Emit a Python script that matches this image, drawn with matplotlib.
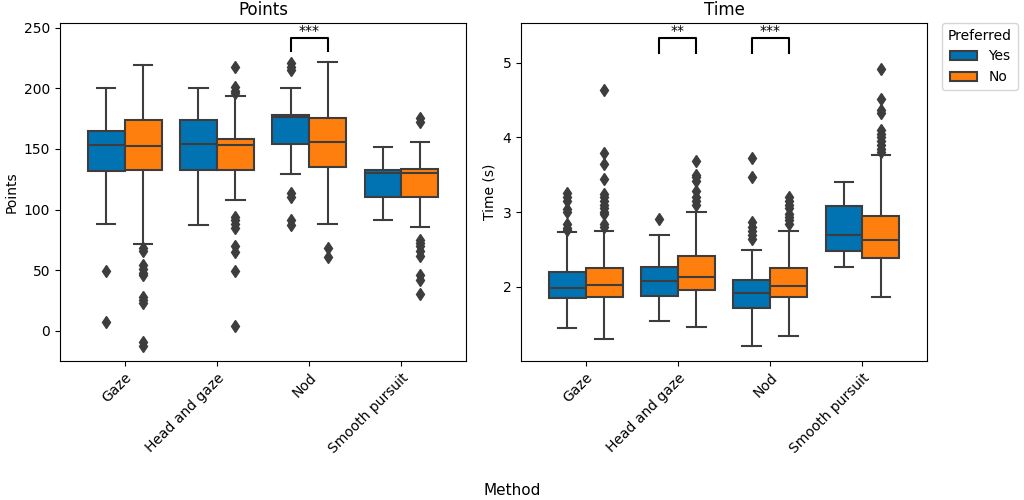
import matplotlib.pyplot as plt

methods = ["Gaze", "Head and gaze", "Nod", "Smooth pursuit"]
groups = ["Yes", "No"]
colors = ["#0173b2", "#ff7f0e"]

# box stats per method: (whisker low, q1, median, q3, whisker high)
points_yes = [(88, 131.5, 153.5, 165, 200), (87, 133, 154, 174, 200),
              (129, 154, 176, 178, 200), (91.5, 110, 130, 132.5, 152)]
points_no = [(71.5, 132.5, 152.5, 174, 219.5), (108, 132.5, 153.5, 158, 193.5),
             (88, 135, 155.5, 175.5, 222), (85.5, 110, 130.5, 133.5, 156)]
points_yes_fliers = [[49.5, 7], [], [221, 218, 215, 114, 110, 91, 87], []]
points_no_fliers = [[68, 65.5, 54, 51, 48, 46, 28, 25, 23, -9, -13],
                    [218, 201, 198, 196, 94, 91, 88, 85, 70, 65, 49, 3.5],
                    [68, 61],
                    [175.5, 172, 75, 72, 70, 66, 62, 46, 42, 30]]

time_yes = [(1.45, 1.85, 1.98, 2.20, 2.73), (1.54, 1.875, 2.08, 2.27, 2.70),
            (1.21, 1.72, 1.92, 2.09, 2.50), (2.27, 2.48, 2.69, 3.08, 3.40)]
time_no = [(1.31, 1.87, 2.03, 2.25, 2.75), (1.46, 1.96, 2.13, 2.41, 3.00),
           (1.34, 1.87, 2.01, 2.25, 2.75), (1.86, 2.39, 2.63, 2.95, 3.77)]
time_yes_fliers = [[2.76, 2.79, 2.84, 3.00, 3.04, 3.15, 3.20, 3.26],
                   [2.91],
                   [2.64, 2.70, 2.75, 2.80, 2.87, 3.47, 3.73],
                   []]
time_no_fliers = [[2.80, 2.84, 2.97, 3.00, 3.05, 3.10, 3.15, 3.20, 3.24, 3.45, 3.65, 3.79, 4.63],
                  [3.10, 3.15, 3.20, 3.28, 3.42, 3.47, 3.50, 3.69],
                  [2.84, 2.90, 2.93, 2.98, 3.05, 3.10, 3.15, 3.20],
                  [3.80, 3.85, 3.90, 3.95, 4.00, 4.05, 4.10, 4.32, 4.36, 4.52, 4.91]]

# significance brackets: (method index, bottom, top, label)
points_sig = [(2, 231, 242, "***")]
time_sig = [(1, 5.13, 5.33, "**"), (2, 5.13, 5.33, "***")]

line_col = "#3d3d3d"


def make_stats(vals, fliers):
    lo, q1, med, q3, hi = vals
    return {"whislo": lo, "q1": q1, "med": med, "q3": q3, "whishi": hi, "fliers": fliers}


def draw_panel(ax, yes, no, yes_fl, no_fl, sig, title, ylabel, ylim):
    for k, (data, fl) in enumerate([(yes, yes_fl), (no, no_fl)]):
        stats = [make_stats(v, f) for v, f in zip(data, fl)]
        pos = [i - 0.2 + 0.4 * k for i in range(len(methods))]
        ax.bxp(stats, positions=pos, widths=0.4, patch_artist=True, capwidths=0.2,
               boxprops=dict(facecolor=colors[k], edgecolor=line_col, linewidth=1.5),
               medianprops=dict(color=line_col, linewidth=1.5),
               whiskerprops=dict(color=line_col, linewidth=1.5),
               capprops=dict(color=line_col, linewidth=1.5),
               flierprops=dict(marker="d", markerfacecolor=line_col, markeredgecolor=line_col,
                               markersize=6.5))
    for i, y0, y1, label in sig:
        ax.plot([i - 0.2, i - 0.2, i + 0.2, i + 0.2], [y0, y1, y1, y0], color="black", lw=1.5)
        ax.text(i, y1, label, ha="center", va="bottom", fontsize=10)
    ax.set_xticks(range(len(methods)))
    ax.set_xticklabels(methods, rotation=45, ha="right", rotation_mode="anchor")
    ax.set_xlim(-0.7, 3.7)
    ax.set_ylim(*ylim)
    ax.set_title(title, fontsize=12)
    ax.set_ylabel(ylabel)


fig = plt.figure(figsize=(10.24, 5), dpi=100)
ax1 = fig.add_axes([0.0586, 0.278, 0.3965, 0.676])
ax2 = fig.add_axes([0.5088, 0.278, 0.3965, 0.676])

draw_panel(ax1, points_yes, points_no, points_yes_fliers, points_no_fliers, points_sig,
           "Points", "Points", (-25, 254))
draw_panel(ax2, time_yes, time_no, time_yes_fliers, time_no_fliers, time_sig,
           "Time", "Time (s)", (1.01, 5.53))

handles = [plt.Rectangle((0, 0), 1, 1, facecolor=c, edgecolor=line_col, linewidth=1.5) for c in colors]
ax2.legend(handles, groups, title="Preferred", loc="upper left", bbox_to_anchor=(1.038, 1.0),
           borderaxespad=0)
fig.text(0.5, 0.004, "Method", ha="center", va="bottom", fontsize=11)

fig.savefig("out.png")
